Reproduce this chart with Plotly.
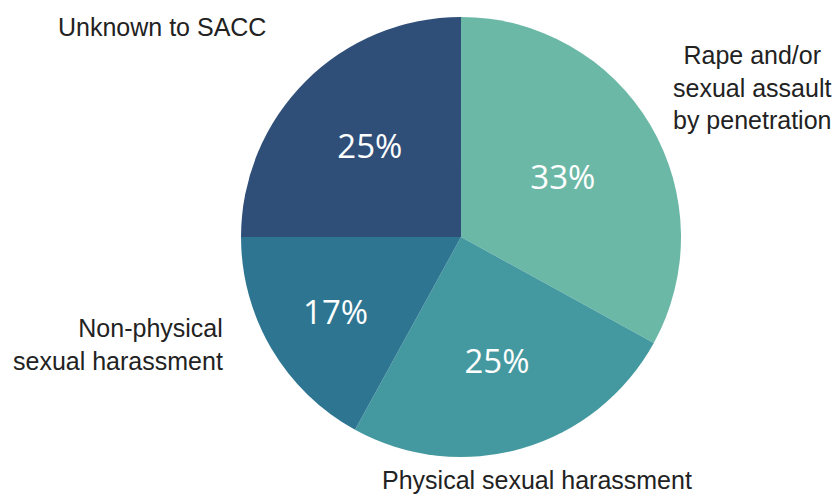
import plotly.graph_objects as go

# Categories and shares (%)
categories = [
    "Rape and/or sexual assault by penetration",
    "Physical sexual harassment",
    "Non-physical sexual harassment",
    "Unknown to SACC",
]
values = [33, 25, 17, 25]
colors = ["#6cb8a7", "#4499a0", "#2d7591", "#304f78"]

# Outside label text (with line breaks as displayed)
label_texts = [
    "Rape and/or<br>sexual assault<br>by penetration",
    "Physical sexual harassment",
    "Non-physical<br>sexual harassment",
    "Unknown to SACC",
]

W, H = 836, 496

fig = go.Figure(
    go.Pie(
        labels=categories,
        values=values,
        sort=False,
        direction="clockwise",
        rotation=0,
        marker=dict(colors=colors, line=dict(width=0)),
        textinfo="percent",
        texttemplate="%{percent:.0%}",
        textposition="inside",
        insidetextorientation="horizontal",
        insidetextfont=dict(family="Open Sans", size=33, color="#ffffff"),
        hoverinfo="label+percent",
        showlegend=False,
        domain=dict(x=[0.2883, 0.8146], y=[0.0786, 0.9657]),
    )
)

label_font = dict(family="Liberation Sans, Arial", size=25, color="#222222")
annotations = [
    dict(text=label_texts[0], x=752, y=87, align="center", xanchor="center"),
    dict(text=label_texts[1], x=537, y=480, align="center", xanchor="center"),
    dict(text=label_texts[2], x=225, y=344, align="right", xanchor="right"),
    dict(text=label_texts[3], x=162, y=27, align="center", xanchor="center"),
]
for a in annotations:
    fig.add_annotation(
        text=a["text"],
        x=a["x"] / W,
        y=1 - a["y"] / H,
        xref="paper",
        yref="paper",
        xanchor=a["xanchor"],
        yanchor="middle",
        align=a["align"],
        showarrow=False,
        font=label_font,
    )

fig.update_layout(
    width=W,
    height=H,
    margin=dict(l=0, r=0, t=0, b=0),
    paper_bgcolor="#ffffff",
    plot_bgcolor="#ffffff",
)

fig.write_html("out.html")
